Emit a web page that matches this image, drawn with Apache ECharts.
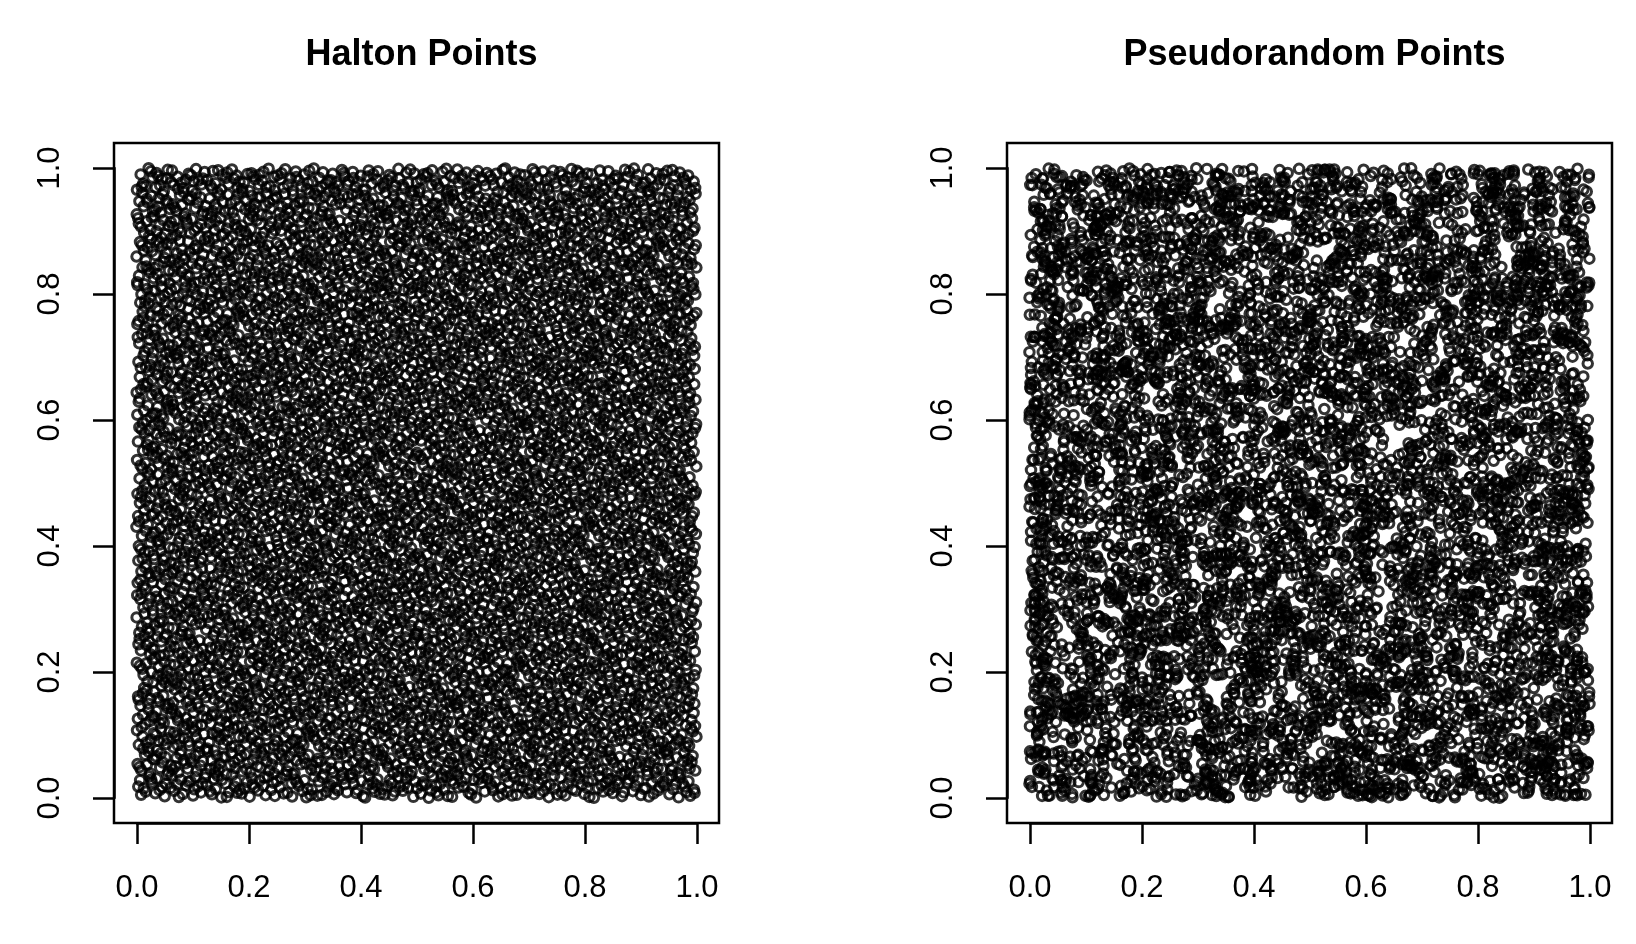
<!DOCTYPE html>
<html><head><meta charset="utf-8">
<script src="https://cdn.jsdelivr.net/npm/echarts@6/dist/echarts.min.js"></script>
<style>html,body{margin:0;background:#fff}#c{width:1636px;height:944px}</style>
</head><body><div id="c"></div>
<script>
const titles = ["Halton Points", "Pseudorandom Points"];
const tickLabels = ["0.0","0.2","0.4","0.6","0.8","1.0"];
const nPoints = 7000;
// Halton sequence (bases 2 and 3) — the plotted sequence itself
function radicalInverse(i, b){let f=1,r=0;while(i>0){f/=b;r+=f*(i%b);i=Math.floor(i/b);}return r;}
const haltonX = [], haltonY = [];
for(let i=1;i<=nPoints;i++){haltonX.push(radicalInverse(i,2));haltonY.push(radicalInverse(i,3));}
// Stand-in for the uniform pseudorandom sample (individual points cannot be read from the image)
let s = 12345;
function lcg(){s=(s*1103515245+12345)%2147483648;return s/2147483648;}
const pseudoX = [], pseudoY = [];
for(let i=0;i<nPoints;i++){pseudoX.push(lcg());pseudoY.push(lcg());}

const panels = [[haltonX,haltonY,114],[pseudoX,pseudoY,1007]];
const font = "Liberation Sans, Arial, sans-serif";
const grid=[],xAxis=[],yAxis=[],series=[],title=[];
const hidden = g=>({gridIndex:g,min:0,max:1,show:false});
panels.forEach((p,k)=>{
  const L=p[2], W=605, T=143, H=680, g0=grid.length;
  grid.push({left:L,top:T,width:W,height:H,show:true,borderColor:'#000',borderWidth:2.5,backgroundColor:'transparent'});
  xAxis.push({gridIndex:g0,min:-0.04,max:1.04,show:false});
  yAxis.push({gridIndex:g0,min:-0.04,max:1.04,show:false});
  const ax={type:'value',min:0,max:1,interval:0.2,splitLine:{show:false},
    axisLine:{show:true,lineStyle:{color:'#000',width:2.5}},
    axisTick:{show:true,length:21,lineStyle:{color:'#000',width:2.5}},
    axisLabel:{color:'#000',fontSize:31,fontFamily:font,formatter:v=>tickLabels[Math.round(v*5)]}};
  grid.push({left:L+23,top:T+25,width:560,height:H-25});
  xAxis.push(Object.assign({},ax,{gridIndex:g0+1,position:'bottom',axisLabel:Object.assign({},ax.axisLabel,{margin:50})}));
  yAxis.push(hidden(g0+1));
  grid.push({left:L,top:T+25,width:583,height:630});
  yAxis.push(Object.assign({},ax,{gridIndex:g0+2,position:'left',axisLabel:Object.assign({},ax.axisLabel,{rotate:90,margin:48})}));
  xAxis.push(hidden(g0+2));
  series.push({type:'scatter',xAxisIndex:g0,yAxisIndex:g0,symbol:'circle',symbolSize:9.5,
    itemStyle:{color:'transparent',borderColor:'#000',borderWidth:3},
    data:p[0].map((x,i)=>[x,p[1][i]]),silent:true});
  title.push({text:titles[k],left:L+W/2,top:32,textAlign:'center',
    textStyle:{fontSize:36,fontWeight:'bold',color:'#000',fontFamily:font}});
});
const chart=echarts.init(document.getElementById('c'));
chart.setOption({animation:false,backgroundColor:'#fff',title,grid,xAxis,yAxis,series});
</script></body></html>
